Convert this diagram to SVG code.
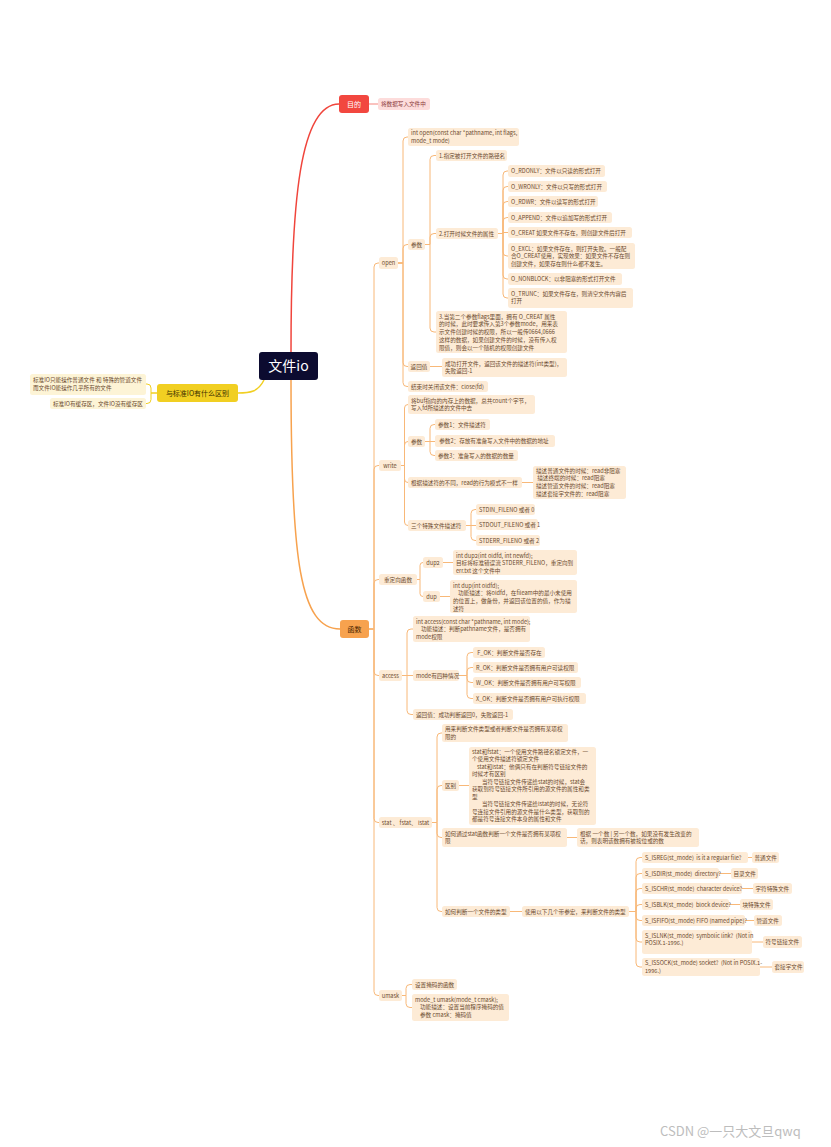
<svg xmlns="http://www.w3.org/2000/svg" width="831" height="1147" viewBox="0 0 831 1147">
<style>
text{font-family:"Noto Sans CJK SC","Noto Sans",sans-serif;white-space:pre}
.t{font-size:5.6px;fill:#6b4a2e}
.n{fill:#fdebd6}
.c{fill:none;stroke:#f8b878;stroke-width:1}
.y{fill:#fdf4d6}
.m{text-anchor:middle}
</style>
<rect width="831" height="1147" fill="#fff"/>
<g id="connectors">
<path d="M291 352C291 200 300 104 339 104" fill="none" stroke="#f0453c" stroke-width="1.5"/>
<path d="M291 380C291 560 300 629 340 629" fill="none" stroke="#f7a24e" stroke-width="1.5"/>
<path d="M264 380C258 392 250 393 238 393" fill="none" stroke="#f1cf22" stroke-width="1.5"/>
<path d="M369 104H378" fill="none" stroke="#f5857e" stroke-width="1"/>
<path d="M157 393H151V388Q151 384 147 384H146M157 393H151V399.5Q151 403.5 147 403.5H146" fill="none" stroke="#f1cf22" stroke-width="1"/>
<path class="c" d="M369 629H374V267Q374 263 378 263H379M369 629H374V469.5Q374 465.5 378 465.5H379M369 629H374V583.5Q374 579.5 378 579.5H379M369 629H374V671.5Q374 675.5 378 675.5H379M369 629H374V818.5Q374 822.5 378 822.5H379M369 629H374V991.5Q374 995.5 378 995.5H379"/>
<path class="c" d="M398 263H403V141Q403 137 407 137H408M398 263H403V248.5Q403 244.5 407 244.5H408M398 263H403V362.5Q403 366.5 407 366.5H408M398 263H403V382.5Q403 386.5 407 386.5H408"/>
<path class="c" d="M425 244.5H430V159.5Q430 155.5 434 155.5H436M425 244.5H430V237.5Q430 233.5 434 233.5H436M425 244.5H430V328Q430 332 434 332H436"/>
<path class="c" d="M498 233.5H503V175Q503 171 507 171H508M498 233.5H503V190.5Q503 186.5 507 186.5H508M498 233.5H503V205.5Q503 201.5 507 201.5H508M498 233.5H503V221.5Q503 217.5 507 217.5H508M498 233.5H503V232.5H508M498 233.5H503V252Q503 256 507 256H508M498 233.5H503V275Q503 279 507 279H508M498 233.5H503V294Q503 298 507 298H508"/>
<path class="c" d="M430 366.5H442"/>
<path class="c" d="M401 465.5H404.5V408Q404.5 404.5 408 404.5M401 465.5H404.5V445Q404.5 441.5 408 441.5M401 465.5H404.5V479Q404.5 482.5 408 482.5M401 465.5H404.5V522Q404.5 525.5 408 525.5"/>
<path class="c" d="M425 441.5H430V428.5Q430 424.5 434 424.5H435M425 441.5H435M425 441.5H430V451.5Q430 455.5 434 455.5H435"/>
<path class="c" d="M522 482.5H533"/>
<path class="c" d="M466 525.5H471V513.5Q471 509.5 475 509.5H476M466 525.5H476M466 525.5H471V536.5Q471 540.5 475 540.5H476"/>
<path class="c" d="M417 579.5H420V565.5Q420 562.5 423 562.5M417 579.5H420V593.5Q420 596.5 423 596.5"/>
<path class="c" d="M443 562.5H453M440 596.5H450"/>
<path class="c" d="M402 675.5H407V633Q407 629 411 629H413M402 675.5H413M402 675.5H407V710.5Q407 714.5 411 714.5H413"/>
<path class="c" d="M459 675.5H467V656.5Q467 652.5 471 652.5H473M459 675.5H467V671.5Q467 667.5 471 667.5H473M459 675.5H467V678.5Q467 682.5 471 682.5H473M459 675.5H467V694.5Q467 698.5 471 698.5H473"/>
<path class="c" d="M432 822.5H437V737Q437 733 441 733H442M432 822.5H437V789.5Q437 785.5 441 785.5H442M432 822.5H437V833.5Q437 837.5 441 837.5H442M432 822.5H437V907.5Q437 911.5 441 911.5H442"/>
<path class="c" d="M459 785.5H469M567 837.5H577M510 911.5H522"/>
<path class="c" d="M629 911.5H636V861.5Q636 857.5 640 857.5H642M629 911.5H636V877.5Q636 873.5 640 873.5H642M629 911.5H636V892.5Q636 888.5 640 888.5H642M629 911.5H636V908.5Q636 904.5 640 904.5H642M629 911.5H636V916.5Q636 920.5 640 920.5H642M629 911.5H636V938Q636 942 640 942H642M629 911.5H636V963Q636 967 640 967H642"/>
<path class="c" d="M748 857.5H752M719 873.5H731M742 888.5H753M729 904.5H740M745 920.5H754M752 942H763M760 967H772"/>
<path class="c" d="M402 995.5H406V988.5Q406 984.5 410 984.5H412M402 995.5H406V1003.5Q406 1007.5 410 1007.5H412"/>
</g>
<g id="root"><rect x="259" y="352" width="59" height="28" rx="3" fill="#0c0b30"/><text x="288.5" y="371" class="m" font-size="14" fill="#fff">文件io</text></g>
<g id="mudi"><rect x="339" y="95" width="30" height="18" rx="3" fill="#f2473f"/><text x="354" y="107" class="m" font-size="7" fill="#fff">目的</text></g>
<g id="mudi-c"><rect x="378" y="98" width="52" height="12" rx="2.5" fill="#fddcdb"/><text x="381" y="106.3" class="t" style="fill:#8b3a3a">将数据写入文件中</text></g>
<g id="hanshu"><rect x="340" y="620" width="29" height="18" rx="3" fill="#f7a24e"/><text x="354.5" y="632" class="m" font-size="7" fill="#4a2600">函数</text></g>
<g id="cmp"><rect x="157" y="384" width="81" height="18" rx="3" fill="#f1cf22"/><text x="197.5" y="396" class="m" font-size="7" fill="#3b2f00">与标准IO有什么区别</text></g>
<g id="cmp-1"><rect class="y" x="30" y="374" width="116" height="21" rx="2.5"/><text class="t" x="33" y="382"><tspan x="33">标准IO只能操作普通文件 和 特殊的管道文件</tspan><tspan x="33" dy="7.8">而文件IO能操作几乎所有的文件</tspan></text></g>
<g id="cmp-2"><rect class="y" x="50" y="398" width="96" height="11" rx="2.5"/><text class="t" x="53" y="405.5">标准IO有缓存区，文件IO没有缓存区</text></g>

<g id="open"><rect class="n" x="379" y="257" width="19" height="12" rx="2.5"/><text class="t m" x="388.5" y="265">open</text></g>
<g id="write"><rect class="n" x="379" y="460" width="22" height="11" rx="2.5"/><text class="t m" x="390" y="467.5">write</text></g>
<g id="redirect"><rect class="n" x="379" y="574" width="38" height="11" rx="2.5"/><text class="t m" x="398" y="581.5">重定向函数</text></g>
<g id="access"><rect class="n" x="379" y="670" width="23" height="11" rx="2.5"/><text class="t m" x="390.5" y="677.5">access</text></g>
<g id="stat"><rect class="n" x="379" y="817" width="53" height="11" rx="2.5"/><text class="t m" x="405.5" y="824.5">stat 、 fstat、 lstat</text></g>
<g id="umask"><rect class="n" x="379" y="990" width="23" height="11" rx="2.5"/><text class="t m" x="390.5" y="997.5">umask</text></g>

<g id="open-proto"><rect class="n" x="408" y="128" width="111" height="18" rx="2.5"/><text class="t" x="411" y="135"><tspan x="411">int open(const char *pathname, int flags,</tspan><tspan x="411" dy="7.8">mode_t mode)</tspan></text></g>
<g id="open-args"><rect class="n" x="408" y="239" width="17" height="11" rx="2.5"/><text class="t m" x="416.5" y="246.5">参数</text></g>
<g id="open-ret"><rect class="n" x="408" y="361" width="22" height="11" rx="2.5"/><text class="t m" x="419" y="368.5">返回值</text></g>
<g id="open-close"><rect class="n" x="408" y="381" width="80" height="11" rx="2.5"/><text class="t" x="411" y="388.5">结束时关闭该文件：close(fd)</text></g>
<g id="arg1"><rect class="n" x="436" y="150" width="71" height="11" rx="2.5"/><text class="t" x="439" y="157.5">1.指定被打开文件的路径名</text></g>
<g id="arg2"><rect class="n" x="436" y="228" width="62" height="11" rx="2.5"/><text class="t" x="439" y="235.5">2.打开时候文件的属性</text></g>
<g id="arg3"><rect class="n" x="436" y="311" width="131" height="42" rx="2.5"/><text class="t" x="439" y="318.5"><tspan x="439">3.当第二个参数flags里面，拥有 O_CREAT 属性</tspan><tspan x="439" dy="7.8">的时候，此时要求传入第3个参数mode，用来表</tspan><tspan x="439" dy="7.8">示文件创建时候的权限，所以一般传0664,0666</tspan><tspan x="439" dy="7.8">这样的数据，如果创建文件的时候，没有传入权</tspan><tspan x="439" dy="7.8">限值，则会以一个随机的权限创建文件</tspan></text></g>
<g id="o-rdonly"><rect class="n" x="508" y="165" width="97" height="12" rx="2.5"/><text class="t" x="511" y="173">O_RDONLY：文件以只读的形式打开</text></g>
<g id="o-wronly"><rect class="n" x="508" y="181" width="99" height="11" rx="2.5"/><text class="t" x="511" y="188.5">O_WRONLY：文件以只写的形式打开</text></g>
<g id="o-rdwr"><rect class="n" x="508" y="196" width="90" height="11" rx="2.5"/><text class="t" x="511" y="203.5">O_RDWR：文件以读写的形式打开</text></g>
<g id="o-append"><rect class="n" x="508" y="212" width="104" height="11" rx="2.5"/><text class="t" x="511" y="219.5">O_APPEND：文件以追加写的形式打开</text></g>
<g id="o-creat"><rect class="n" x="508" y="227" width="124" height="11" rx="2.5"/><text class="t" x="511" y="234.5">O_CREAT 如果文件不存在，则创建文件后打开</text></g>
<g id="o-excl"><rect class="n" x="508" y="243" width="127" height="26" rx="2.5"/><text class="t" x="511" y="250.5"><tspan x="511">O_EXCL：如果文件存在，则打开失败。一般配</tspan><tspan x="511" dy="7.8">合O_CREAT使用，实现效果：如果文件不存在则</tspan><tspan x="511" dy="7.8">创建文件，如果存在则什么都不发生。</tspan></text></g>
<g id="o-nonblock"><rect class="n" x="508" y="273" width="114" height="12" rx="2.5"/><text class="t" x="511" y="281">O_NONBLOCK：以非阻塞的形式打开文件</text></g>
<g id="o-trunc"><rect class="n" x="508" y="288" width="125" height="20" rx="2.5"/><text class="t" x="511" y="295.5"><tspan x="511">O_TRUNC：如果文件存在，则清空文件内容后</tspan><tspan x="511" dy="7.8">打开</tspan></text></g>
<g id="open-ret-c"><rect class="n" x="442" y="358" width="125" height="19" rx="2.5"/><text class="t" x="445" y="365.5"><tspan x="445">成功打开文件，返回该文件的描述符(int类型)，</tspan><tspan x="445" dy="7.8">失败返回-1</tspan></text></g>

<g id="write-desc"><rect class="n" x="408" y="395" width="127" height="19" rx="2.5"/><text class="t" x="411" y="402.5"><tspan x="411">将buf指向的内存上的数据，总共count个字节，</tspan><tspan x="411" dy="7.8">写入fd所描述的文件中去</tspan></text></g>
<g id="write-args"><rect class="n" x="408" y="436" width="17" height="11" rx="2.5"/><text class="t m" x="416.5" y="443.5">参数</text></g>
<g id="write-mode"><rect class="n" x="408" y="477" width="114" height="11" rx="2.5"/><text class="t" x="411" y="484.5">根据描述符的不同，read的行为模式不一样</text></g>
<g id="write-fds"><rect class="n" x="408" y="520" width="58" height="11" rx="2.5"/><text class="t" x="411" y="527.5">三个特殊文件描述符</text></g>
<g id="warg1"><rect class="n" x="435" y="419" width="55" height="11" rx="2.5"/><text class="t" x="438" y="426.5">参数1：文件描述符</text></g>
<g id="warg2"><rect class="n" x="435" y="435" width="120" height="12" rx="2.5"/><text class="t" x="438" y="443"> 参数2：存放有准备写入文件中的数据的地址</text></g>
<g id="warg3"><rect class="n" x="435" y="450" width="83" height="11" rx="2.5"/><text class="t" x="438" y="457.5">参数3：准备写入的数据的数量</text></g>
<g id="write-mode-c"><rect class="n" x="533" y="466" width="93" height="33" rx="2.5"/><text class="t" x="536" y="472.5"><tspan x="536">描述普通文件的时候：read非阻塞</tspan><tspan x="536" dy="7.8"> 描述终端的时候：read阻塞</tspan><tspan x="536" dy="7.8">描述管道文件的时候：read阻塞</tspan><tspan x="536" dy="7.8">描述套接字文件的：read阻塞</tspan></text></g>
<g id="stdin"><rect class="n" x="476" y="504" width="59" height="11" rx="2.5"/><text class="t" x="479" y="511.5">STDIN_FILENO 或者 0</text></g>
<g id="stdout"><rect class="n" x="476" y="519" width="62" height="11" rx="2.5"/><text class="t" x="479" y="526.5">STDOUT_FILENO 或者 1</text></g>
<g id="stderr"><rect class="n" x="476" y="535" width="64" height="11" rx="2.5"/><text class="t" x="479" y="542.5">STDERR_FILENO 或者 2</text></g>

<g id="dup2"><rect class="n" x="423" y="557" width="20" height="11" rx="2.5"/><text class="t m" x="433" y="564.5">dup2</text></g>
<g id="dup"><rect class="n" x="423" y="591" width="17" height="11" rx="2.5"/><text class="t m" x="431.5" y="598.5">dup</text></g>
<g id="dup2-c"><rect class="n" x="453" y="550" width="124" height="25" rx="2.5"/><text class="t" x="456" y="557.5"><tspan x="456">int dup2(int oldfd, int newfd);</tspan><tspan x="456" dy="7.8">目标将标准错误流 STDERR_FILENO，重定向到</tspan><tspan x="456" dy="7.8">err.txt 这个文件中</tspan></text></g>
<g id="dup-c"><rect class="n" x="450" y="580" width="127" height="33" rx="2.5"/><text class="t" x="453" y="587.5"><tspan x="453">int dup(int oldfd);</tspan><tspan x="453" dy="7.8">    功能描述：将oldfd，在fileam中的最小未使用</tspan><tspan x="453" dy="7.8">的位置上，做备份，并返回该位置的值，作为描</tspan><tspan x="453" dy="7.8">述符</tspan></text></g>

<g id="access-proto"><rect class="n" x="413" y="616" width="117" height="26" rx="2.5"/><text class="t" x="416" y="623.5"><tspan x="416">int access(const char *pathname, int mode);</tspan><tspan x="416" dy="7.8">    功能描述：判断pathname文件，是否拥有</tspan><tspan x="416" dy="7.8">mode权限</tspan></text></g>
<g id="access-mode"><rect class="n" x="413" y="670" width="46" height="11" rx="2.5"/><text class="t" x="416" y="677.5">mode有四种情况</text></g>
<g id="access-ret"><rect class="n" x="413" y="709" width="100" height="11" rx="2.5"/><text class="t" x="416" y="716.5">返回值：成功判断返回0，失败返回-1</text></g>
<g id="f-ok"><rect class="n" x="473" y="647" width="72" height="11" rx="2.5"/><text class="t" x="476" y="654.5"> F_OK：判断文件是否存在</text></g>
<g id="r-ok"><rect class="n" x="473" y="662" width="105" height="11" rx="2.5"/><text class="t" x="476" y="669.5">R_OK：判断文件是否拥有用户可读权限</text></g>
<g id="w-ok"><rect class="n" x="473" y="677" width="108" height="11" rx="2.5"/><text class="t" x="476" y="684.5">W_OK：判断文件是否拥有用户可写权限</text></g>
<g id="x-ok"><rect class="n" x="473" y="693" width="113" height="11" rx="2.5"/><text class="t" x="476" y="700.5">X_OK：判断文件是否拥有用户可执行权限</text></g>

<g id="stat-use"><rect class="n" x="442" y="724" width="126" height="18" rx="2.5"/><text class="t" x="445" y="731"><tspan x="445">用来判断文件类型或者判断文件是否拥有某项权</tspan><tspan x="445" dy="7.8">限的</tspan></text></g>
<g id="stat-diff"><rect class="n" x="442" y="780" width="17" height="11" rx="2.5"/><text class="t m" x="450.5" y="787.5">区别</text></g>
<g id="stat-perm"><rect class="n" x="442" y="828" width="125" height="19" rx="2.5"/><text class="t" x="445" y="835.5"><tspan x="445">如何通过stat函数判断一个文件是否拥有某项权</tspan><tspan x="445" dy="7.8">限</tspan></text></g>
<g id="stat-type"><rect class="n" x="442" y="906" width="68" height="11" rx="2.5"/><text class="t" x="445" y="913.5">如何判断一个文件的类型</text></g>
<g id="stat-diff-c"><rect class="n" x="469" y="747" width="127" height="78" rx="2.5"/><text class="t" x="472" y="754"><tspan x="472">stat和fstat：一个使用文件路径名锁定文件，一</tspan><tspan x="472" dy="7.45">个使用文件描述符锁定文件</tspan><tspan x="472" dy="7.45">    stat和lstat：他俩只有在判断符号链接文件的</tspan><tspan x="472" dy="7.45">时候才有区别</tspan><tspan x="472" dy="7.45">        当符号链接文件传递给stat的时候，stat会</tspan><tspan x="472" dy="7.45">获取到符号链接文件所引用的源文件的属性和类</tspan><tspan x="472" dy="7.45">型</tspan><tspan x="472" dy="7.45">        当符号链接文件传递给lstat的时候，无论符</tspan><tspan x="472" dy="7.45">号连接文件引用的源文件是什么类型，获取到的</tspan><tspan x="472" dy="7.45">都是符号连接文件本身的属性和文件</tspan></text></g>
<g id="stat-perm-c"><rect class="n" x="577" y="828" width="122" height="19" rx="2.5"/><text class="t" x="580" y="835.5"><tspan x="580">根据 一个数 | 另一个数，如果没有发生改变的</tspan><tspan x="580" dy="7.8">话，则表明该数拥有被按位或的数</tspan></text></g>
<g id="stat-type-c"><rect class="n" x="522" y="906" width="107" height="11" rx="2.5"/><text class="t" x="525" y="913.5">使用以下几个带参宏，来判断文件的类型</text></g>
<g id="m-reg"><rect class="n" x="642" y="852" width="106" height="11" rx="2.5"/><text class="t" x="645" y="859.5">S_ISREG(st_mode)  is it a regular file?</text></g>
<g id="m-reg-l"><rect class="n" x="752" y="852" width="27" height="11" rx="2.5"/><text class="t" x="754.5" y="859.5">普通文件</text></g>
<g id="m-dir"><rect class="n" x="642" y="868" width="77" height="11" rx="2.5"/><text class="t" x="645" y="875.5">S_ISDIR(st_mode)  directory?</text></g>
<g id="m-dir-l"><rect class="n" x="731" y="868" width="27" height="11" rx="2.5"/><text class="t" x="733.5" y="875.5">目录文件</text></g>
<g id="m-chr"><rect class="n" x="642" y="883" width="100" height="11" rx="2.5"/><text class="t" x="645" y="890.5">S_ISCHR(st_mode)  character device?</text></g>
<g id="m-chr-l"><rect class="n" x="753" y="883" width="39" height="11" rx="2.5"/><text class="t" x="755.5" y="890.5">字符特殊文件</text></g>
<g id="m-blk"><rect class="n" x="642" y="899" width="87" height="11" rx="2.5"/><text class="t" x="645" y="906.5">S_ISBLK(st_mode)  block device?</text></g>
<g id="m-blk-l"><rect class="n" x="740" y="899" width="33" height="11" rx="2.5"/><text class="t" x="742.5" y="906.5">块特殊文件</text></g>
<g id="m-fifo"><rect class="n" x="642" y="915" width="103" height="11" rx="2.5"/><text class="t" x="645" y="922.5">S_ISFIFO(st_mode) FIFO (named pipe)?</text></g>
<g id="m-fifo-l"><rect class="n" x="754" y="915" width="28" height="11" rx="2.5"/><text class="t" x="756.5" y="922.5">管道文件</text></g>
<g id="m-lnk"><rect class="n" x="642" y="930" width="110" height="24" rx="2.5"/><text class="t" x="645" y="937.5"><tspan x="645">S_ISLNK(st_mode)  symbolic link?  (Not in</tspan><tspan x="645" dy="7.8">POSIX.1-1996.)</tspan></text></g>
<g id="m-lnk-l"><rect class="n" x="763" y="936" width="39" height="12" rx="2.5"/><text class="t" x="765.5" y="944">符号链接文件</text></g>
<g id="m-sock"><rect class="n" x="642" y="958" width="118" height="18" rx="2.5"/><text class="t" x="645" y="965"><tspan x="645">S_ISSOCK(st_mode) socket?  (Not in POSIX.1-</tspan><tspan x="645" dy="7.8">1996.)</tspan></text></g>
<g id="m-sock-l"><rect class="n" x="772" y="961" width="32" height="12" rx="2.5"/><text class="t" x="774.5" y="969">套接字文件</text></g>

<g id="umask-1"><rect class="n" x="412" y="979" width="45" height="11" rx="2.5"/><text class="t" x="415" y="986.5">设置掩码的函数</text></g>
<g id="umask-2"><rect class="n" x="412" y="994" width="97" height="27" rx="2.5"/><text class="t" x="415" y="1001.5"><tspan x="415">mode_t umask(mode_t cmask);</tspan><tspan x="415" dy="7.8">    功能描述：设置当前程序掩码的值</tspan><tspan x="415" dy="7.8">    参数 cmask：掩码值</tspan></text></g>

<text x="660" y="1136" font-size="13" fill="#bdbdbd" style="font-family:'Noto Sans CJK SC',sans-serif">CSDN @一只大文旦qwq</text>
</svg>
